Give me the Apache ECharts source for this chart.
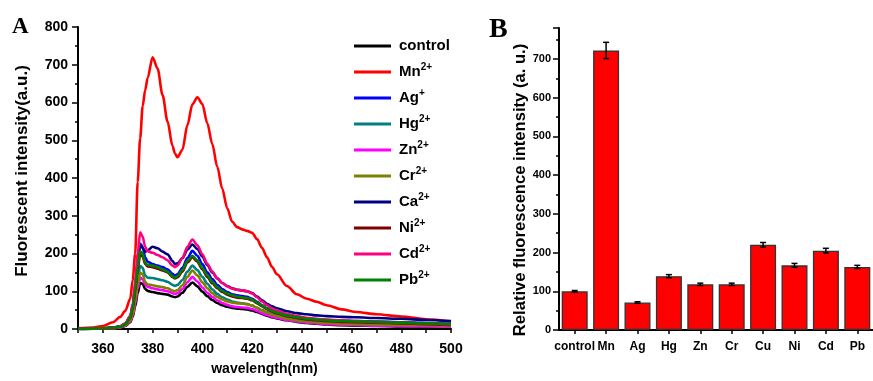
<!DOCTYPE html>
<html>
<head>
<meta charset="utf-8">
<script src="https://cdn.jsdelivr.net/npm/echarts@6/dist/echarts.min.js"></script>
<style>
  html, body { margin: 0; padding: 0; background: #fff; }
  #chart { width: 873px; height: 381px; }
</style>
</head>
<body>
<div id="chart"></div>
<script>
// panel A: emission spectra
const wavelength = [350, 356, 360, 364, 367, 369, 371, 372, 373, 374, 375, 376, 377, 378, 380, 382, 384, 386, 388, 389,
  390, 392, 394, 396, 398, 400, 402, 404, 406, 408, 410, 412, 414, 416, 418, 420, 422, 424, 426, 428,
  430, 434, 438, 442, 446, 450, 456, 462, 470, 480, 490, 500]
const control = [0, 1, 1, 2, 4, 8, 18, 32, 60, 95, 122, 120, 106, 101, 98, 95, 93, 91, 86, 84,
  86, 96, 112, 123, 113, 99, 87, 77, 69, 63, 59, 56, 54, 53, 52, 49, 45, 40, 35, 31,
  28, 23, 19, 16, 14, 12, 10, 9, 8, 7, 6, 5]
const mn = [2, 4, 8, 18, 32, 48, 80, 130, 200, 390, 505, 590, 632, 665, 720, 690, 620, 550, 485, 465,
  455, 475, 540, 595, 614, 596, 545, 490, 430, 372, 320, 284, 270, 264, 260, 255, 238, 215, 190, 165,
  145, 114, 92, 80, 72, 63, 52, 45, 39, 33, 26, 20]
const ag = [0, 1, 2, 3, 7, 14, 32, 60, 115, 180, 226, 218, 190, 178, 172, 168, 164, 158, 146, 141,
  145, 162, 188, 207, 194, 172, 150, 132, 117, 106, 98, 92, 89, 87, 85, 80, 72, 63, 55, 49,
  44, 37, 32, 28, 26, 24, 22, 21, 20, 18, 16, 14]
const hg = [0, 1, 2, 3, 6, 12, 26, 46, 85, 132, 167, 162, 142, 136, 135, 132, 129, 125, 117, 114,
  117, 130, 152, 168, 156, 138, 120, 105, 93, 84, 78, 73, 70, 68, 66, 62, 56, 50, 44, 39,
  35, 29, 24, 21, 19, 17, 15, 14, 13, 12, 11, 10]
const zn = [0, 1, 1, 2, 4, 9, 20, 36, 68, 108, 136, 132, 118, 112, 108, 105, 103, 100, 95, 93,
  95, 106, 124, 138, 126, 110, 96, 85, 76, 69, 64, 60, 58, 57, 56, 53, 48, 42, 37, 33,
  29, 24, 20, 17, 15, 13, 11, 10, 9, 8, 7, 6]
const cr = [0, 1, 1, 2, 5, 10, 22, 40, 75, 118, 149, 145, 125, 118, 116, 113, 111, 108, 102, 100,
  103, 116, 138, 155, 142, 124, 108, 95, 85, 78, 73, 70, 68, 67, 66, 62, 56, 49, 43, 38,
  34, 28, 23, 20, 18, 16, 14, 13, 12, 11, 10, 9]
const ca = [0, 1, 2, 3, 7, 14, 32, 60, 112, 178, 222, 215, 205, 208, 218, 214, 205, 198, 180, 172,
  174, 188, 210, 224, 212, 192, 170, 150, 134, 122, 114, 108, 104, 102, 100, 95, 86, 76, 67, 60,
  55, 47, 42, 39, 36, 34, 32, 31, 29, 27, 24, 21]
const ni = [0, 1, 2, 3, 6, 13, 29, 54, 100, 158, 198, 192, 172, 166, 164, 160, 155, 150, 138, 134,
  137, 152, 176, 190, 178, 158, 138, 121, 108, 98, 91, 86, 83, 82, 80, 76, 68, 60, 52, 46,
  41, 34, 29, 25, 23, 21, 19, 18, 17, 15, 13, 11]
const cd = [0, 1, 2, 3, 7, 15, 35, 66, 125, 200, 256, 245, 218, 206, 202, 196, 190, 182, 168, 164,
  168, 188, 218, 237, 222, 198, 173, 152, 135, 122, 113, 107, 104, 102, 100, 94, 84, 73, 63, 55,
  49, 40, 34, 30, 27, 25, 23, 21, 19, 17, 15, 13]
const pb = [0, 1, 2, 3, 6, 13, 30, 56, 104, 164, 206, 199, 176, 170, 168, 164, 158, 152, 140, 136,
  140, 156, 180, 194, 182, 162, 142, 125, 111, 101, 94, 89, 86, 84, 82, 78, 70, 62, 54, 48,
  43, 36, 31, 27, 25, 23, 21, 20, 19, 17, 15, 13]

const seriesNames = ['control', 'Mn', 'Ag', 'Hg', 'Zn', 'Cr', 'Ca', 'Ni', 'Cd', 'Pb']
const seriesCharge = ['', '2+', '+', '2+', '2+', '2+', '2+', '2+', '2+', '2+']
const seriesColors = ['#000000', '#FF0000', '#0000FF', '#008080', '#FF00FF', '#808000', '#000080', '#800000', '#FF0080', '#008000']
const spectra = [control, mn, ag, hg, zn, cr, ca, ni, cd, pb]

// panel B: bar chart
const ions = ['control', 'Mn', 'Ag', 'Hg', 'Zn', 'Cr', 'Cu', 'Ni', 'Cd', 'Pb']
const intensity = [100, 722, 71, 139, 118, 118, 220, 167, 205, 163]
const intensityErr = [2, 21, 2, 4, 3, 3, 6, 5, 6, 4]

const SANS = '"Liberation Sans", Arial, sans-serif'
const SERIF = '"Liberation Serif", "Times New Roman", serif'

const boldText = (size) => ({ fontFamily: SANS, fontWeight: 'bold', fontSize: size, color: '#000' })
const blackLine = { lineStyle: { color: '#000', width: 2 } }
const tickStyle = (len) => ({ show: true, length: len, lineStyle: { color: '#000', width: 1.5 } })

const chart = echarts.init(document.getElementById('chart'), null, { renderer: 'canvas' })

const lineSeries = spectra.map((vals, i) => ({
  name: seriesNames[i],
  type: 'line',
  xAxisIndex: 0,
  yAxisIndex: 0,
  symbol: 'none',
  smooth: 0.3,
  smoothMonotone: 'x',
  lineStyle: { color: seriesColors[i], width: 2.6 },
  itemStyle: { color: seriesColors[i] },
  data: wavelength.map((w, k) => [w, vals[k]]),
}))

const option = {
  backgroundColor: '#fff',
  animation: false,
  grid: [
    { left: 78, top: 27, width: 373, height: 308 },
    { left: 559, top: 28, width: 319, height: 302 },
  ],
  graphic: [
    { type: 'text', left: 12, top: 16, style: { text: 'A', font: `bold 23px ${SERIF}`, fill: '#000' } },
    { type: 'text', left: 489, top: 16, style: { text: 'B', font: `bold 28px ${SERIF}`, fill: '#000' } },
    {
      type: 'text', x: 22, y: 171, rotation: Math.PI / 2,
      style: { text: 'Fluorescent intensity(a.u.)', font: `bold 17px ${SANS}`, fill: '#000', align: 'center', verticalAlign: 'middle' },
    },
    {
      type: 'text', x: 520, y: 190, rotation: Math.PI / 2,
      style: { text: 'Relative fluorescence intensity (a. u.)', font: `bold 16.6px ${SANS}`, fill: '#000', align: 'center', verticalAlign: 'middle' },
    },
  ],
  legend: {
    orient: 'vertical',
    left: 354,
    top: 36,
    padding: 0,
    icon: 'rect',
    itemWidth: 37,
    itemHeight: 3,
    itemGap: 6,
    data: seriesNames,
    formatter: (name) => {
      const sup = seriesCharge[seriesNames.indexOf(name)]
      return sup ? `{b|${name}}{s|${sup}}` : `{b|${name}}`
    },
    textStyle: {
      ...boldText(15),
      lineHeight: 20,
      padding: [0, 0, 0, 3],
      rich: {
        b: { ...boldText(15), lineHeight: 20 },
        s: { ...boldText(10), padding: [0, 0, 10, 0] },
      },
    },
  },
  xAxis: [
    {
      gridIndex: 0,
      type: 'value',
      min: 350,
      max: 500,
      interval: 10,
      name: 'wavelength(nm)',
      nameLocation: 'middle',
      nameGap: 33,
      nameTextStyle: boldText(14),
      axisLine: { show: true, ...blackLine },
      axisTick: tickStyle(4),
      axisLabel: { ...boldText(14), margin: 13, formatter: (v) => (v % 20 === 0 ? String(v) : '') },
      splitLine: { show: false },
    },
    {
      gridIndex: 1,
      type: 'category',
      data: ions,
      axisLine: { show: true, ...blackLine },
      axisTick: { ...tickStyle(4), alignWithLabel: true },
      axisLabel: { ...boldText(12), margin: 11, interval: 0 },
      splitLine: { show: false },
    },
  ],
  yAxis: [
    {
      gridIndex: 0,
      type: 'value',
      min: 0,
      max: 800,
      interval: 100,
      axisLine: { show: true, ...blackLine },
      axisTick: tickStyle(6),
      minorTick: { ...tickStyle(3), splitNumber: 2 },
      axisLabel: { ...boldText(14), margin: 10 },
      splitLine: { show: false },
    },
    {
      gridIndex: 1,
      type: 'value',
      min: 0,
      max: 780,
      interval: 100,
      axisLine: { show: true, ...blackLine },
      axisTick: tickStyle(6),
      minorTick: { ...tickStyle(3), splitNumber: 2 },
      axisLabel: { ...boldText(11), margin: 8, showMaxLabel: false },
      splitLine: { show: false },
    },
  ],
  series: [
    ...lineSeries,
    {
      type: 'bar',
      xAxisIndex: 1,
      yAxisIndex: 1,
      barWidth: 26,
      itemStyle: { color: '#FF0000', borderColor: '#333', borderWidth: 1.3 },
      data: intensity,
    },
    {
      type: 'custom',
      xAxisIndex: 1,
      yAxisIndex: 1,
      z: 5,
      data: intensity.map((v, i) => [i, v, intensityErr[i]]),
      renderItem: (params, api) => {
        const i = api.value(0)
        const top = api.coord([i, api.value(1) + api.value(2)])
        const bottom = api.coord([i, api.value(1) - api.value(2)])
        const half = 3
        const style = { stroke: '#000', lineWidth: 1.5 }
        return {
          type: 'group',
          children: [
            { type: 'line', shape: { x1: top[0], y1: top[1], x2: bottom[0], y2: bottom[1] }, style },
            { type: 'line', shape: { x1: top[0] - half, y1: top[1], x2: top[0] + half, y2: top[1] }, style },
            { type: 'line', shape: { x1: bottom[0] - half, y1: bottom[1], x2: bottom[0] + half, y2: bottom[1] }, style },
          ],
        }
      },
    },
  ],
}

chart.setOption(option)
</script>
</body>
</html>
